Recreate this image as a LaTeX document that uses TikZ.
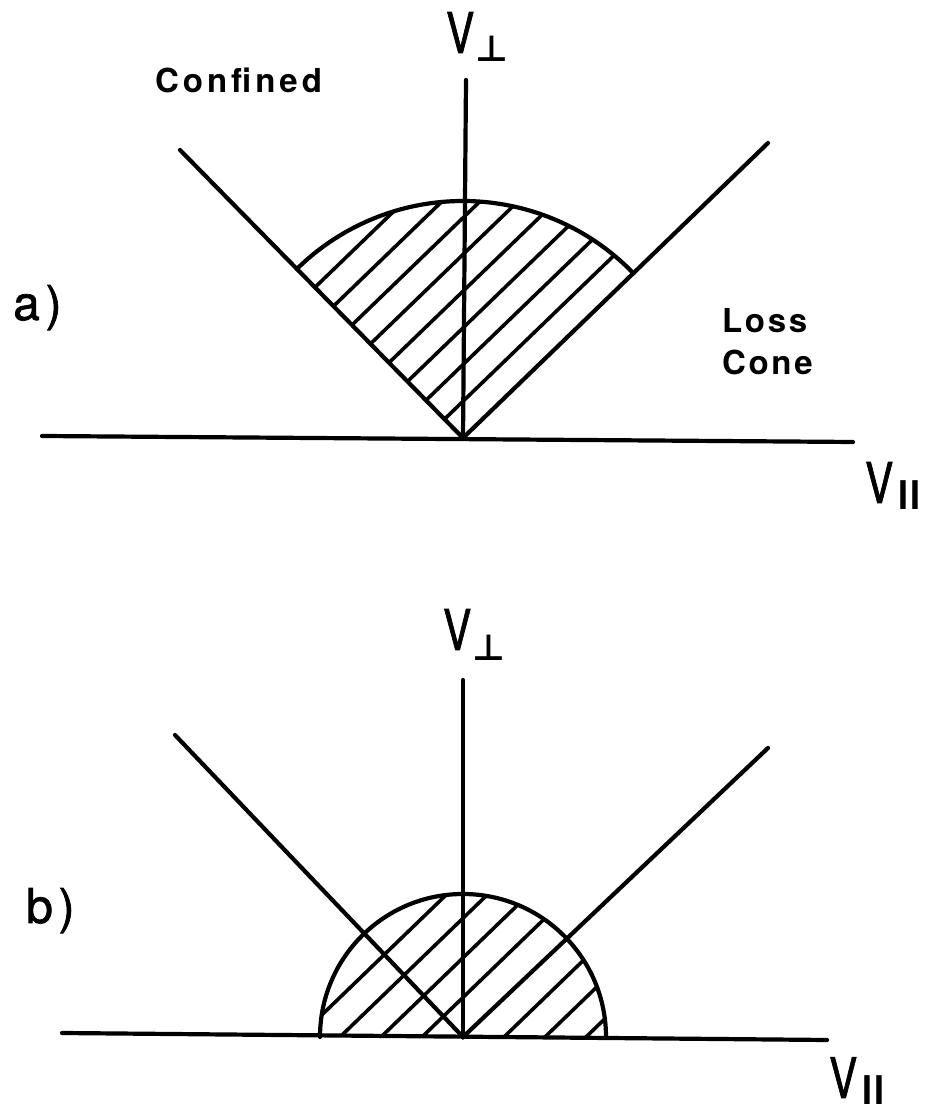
\documentclass[tikz,border=0pt]{standalone}
\usepackage{fontspec}
\setmainfont{TeX Gyre Heros}
\newfontfamily\symfont{DejaVu Sans}
\usepackage{graphicx}
\usetikzlibrary{calc}
\begin{document}
\begin{tikzpicture}[x=1pt,y=1pt,
  ln/.style={line width=4.2pt, line cap=round},
  hatchln/.style={line width=3.6pt},
  word/.style={inner sep=0pt, anchor=base west, font=\fontsize{33}{33}\selectfont\bfseries\addfontfeatures{LetterSpace=12}},
  word2/.style={inner sep=0pt, anchor=base west, font=\fontsize{33}{33}\selectfont\bfseries\addfontfeatures{LetterSpace=8}},
  plabel/.style={inner sep=0pt, anchor=base west, font=\fontsize{48}{48}\selectfont\addfontfeatures{LetterSpace=12,FakeBold=1.5}},
  vlet/.style={inner sep=0pt, anchor=base west, font=\fontsize{56}{56}\selectfont\addfontfeatures{FakeBold=1.5}},
  vsub/.style={inner sep=0pt, anchor=base west, font=\fontsize{36}{36}\selectfont\bfseries}]
\useasboundingbox (0,0) rectangle (926,1113);

% ---------------- panel a ----------------
\coordinate (Oa) at (463,675);
\coordinate (aL) at (42,677);
\coordinate (aR) at (853,671);
\coordinate (aT) at (466,1033);
\coordinate (aCL) at (180,963);
\coordinate (aCR) at (768,970);

\begin{scope}
  \clip (Oa) -- ++(134.5:237) arc[start angle=134.5, end angle=44, radius=237] -- cycle;
  \foreach \k in {1,...,8}{
    \draw[hatchln] ($(Oa)+(-38*\k,0)$) -- ++(44:420);
  }
\end{scope}
\draw[ln] (Oa) ++(134.5:237) arc[start angle=134.5, end angle=44, radius=237];
\draw[ln] (aL) -- (aR);
\draw[ln] (Oa) -- (aT);
\draw[ln] (aCL) -- (Oa) -- (aCR);

\node[word] (confined) at (155,1020) {Confined};
\node[word2] (loss) at (722,780) {Loss};
\node[word2] (cone) at (722,738) {Cone};
\node[plabel] (alab) at (13,793) {a)};
\node[vlet] (aVp) at (446,1060) {\scalebox{0.75}[1]{V}};
\node[vsub] (aVps) at (475,1051) {\symfont ⊥};
\node[vlet] (aVl) at (865,610) {\scalebox{0.75}[1]{V}};
\node[vsub] (aVls) at (898,603) {\scalebox{1}[1.1]{I\kern2ptI}};

% ---------------- panel b ----------------
\coordinate (Ob) at (463,76);
\coordinate (bL) at (62,80);
\coordinate (bR) at (827,73);
\coordinate (bT) at (463,433);
\coordinate (bCL) at (175,378);
\coordinate (bCR) at (768,365);

\begin{scope}
  \clip (Ob) ++(143,0) arc[start angle=0, end angle=180, radius=143] -- cycle;
  \foreach \k in {-4,-3,-2,-1,1,2,3}{
    \draw[hatchln] ($(Ob)+(41*\k,0)$) ++(224:40) -- ++(44:460);
  }
\end{scope}
\draw[ln] (Ob) ++(143,0) arc[start angle=0, end angle=180, radius=143];
\draw[ln] (bL) -- (bR);
\draw[ln] (Ob) -- (bT);
\draw[ln] (bCL) -- (Ob) -- (bCR);

\node[plabel] (blab) at (26,190) {b)};
\node[vlet] (bVp) at (443,463) {\scalebox{0.75}[1]{V}};
\node[vsub] (bVps) at (472,452) {\symfont ⊥};
\node[vlet] (bVl) at (829,15) {\scalebox{0.75}[1]{V}};
\node[vsub] (bVls) at (862,9) {\scalebox{1}[1.1]{I\kern2ptI}};
\end{tikzpicture}
\end{document}
